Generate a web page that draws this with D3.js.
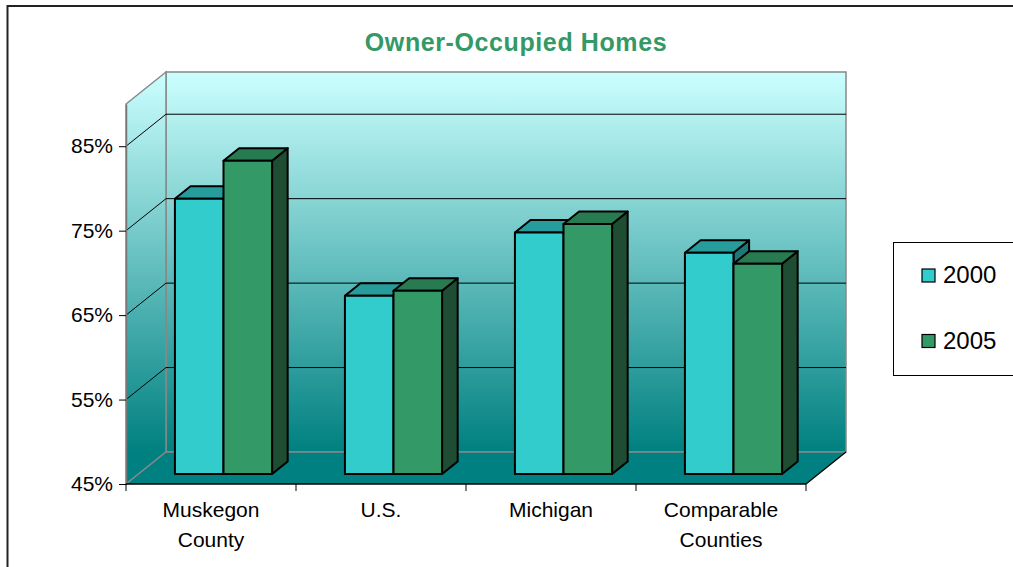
<!DOCTYPE html>
<html>
<head>
<meta charset="utf-8">
<script src="https://cdn.jsdelivr.net/npm/d3@7"></script>
<style>
  body { margin: 0; background: #fff; }
  text { font-family: "Liberation Sans", Arial, sans-serif; }
</style>
</head>
<body>
<div id="chart"></div>
<script>
// data
var categories = ["Muskegon County", "U.S.", "Michigan", "Comparable Counties"];
var years = ["2000", "2005"];
var values2000 = [77.6, 66.1, 73.6, 71.2];
var values2005 = [82.1, 66.7, 74.6, 69.9];
var yTicks = [45, 55, 65, 75, 85];

var svgWidth = 1013;
var svgHeight = 567;

// 3d depth of the plot box, and of the bars inside it
var DX = 40, DY = -32;
var frontDX = 12.5, frontDY = -10;
var barDX = 15.6, barDY = -12.5;

var colors = {
  "2000": { front: "#33cccc", top: "#279c9c", side: "#1e7878" },
  "2005": { front: "#339966", top: "#287a50", side: "#1e4d34" }
};

var svg = d3.select("#chart")
  .append("svg")
  .attr("width", svgWidth)
  .attr("height", svgHeight);

var defs = svg.append("defs");
var grad = defs.append("linearGradient")
  .attr("id", "wall")
  .attr("gradientUnits", "userSpaceOnUse")
  .attr("x1", 0).attr("y1", 72).attr("x2", 0).attr("y2", 452);
grad.append("stop").attr("offset", "0%").attr("stop-color", "#ccffff");
grad.append("stop").attr("offset", "100%").attr("stop-color", "#008080");

// outer chart border
svg.append("rect")
  .attr("x", 7.5).attr("y", 6)
  .attr("width", 1040).attr("height", 600)
  .attr("fill", "#fff")
  .attr("stroke", "#222")
  .attr("stroke-width", 2);

var x = d3.scaleBand()
  .domain(categories)
  .range([126, 806]);

var xInner = d3.scaleBand()
  .domain(years)
  .range([0, x.bandwidth()])
  .paddingInner(0)
  .paddingOuter(0.75);

var y = d3.scaleLinear()
  .domain([45, 90])
  .range([484, 104]);

var x0 = x.range()[0], x1 = x.range()[1];
var yBase = y(45), yTop = y(90);

// back wall
svg.append("rect")
  .attr("x", x0 + DX).attr("y", yTop + DY)
  .attr("width", x1 - x0).attr("height", yBase - yTop)
  .attr("fill", "url(#wall)")
  .attr("stroke", "#888")
  .attr("stroke-width", 1.5);

// left wall
svg.append("polygon")
  .attr("points", [[x0, yBase], [x0, yTop], [x0 + DX, yTop + DY], [x0 + DX, yBase + DY]].join(" "))
  .attr("fill", "url(#wall)")
  .attr("stroke", "#888")
  .attr("stroke-width", 1.5);

// gridlines
var grid = svg.append("g");
yTicks.filter(d => d > 45).forEach(function(v) {
  grid.append("line")
    .attr("x1", x0 + DX).attr("x2", x1 + DX)
    .attr("y1", y(v) + DY).attr("y2", y(v) + DY)
    .attr("stroke", "#000").attr("stroke-width", 1);
  grid.append("line")
    .attr("x1", x0).attr("x2", x0 + DX)
    .attr("y1", y(v)).attr("y2", y(v) + DY)
    .attr("stroke", "#000").attr("stroke-width", 1);
});

// floor
svg.append("polygon")
  .attr("points", [[x0, yBase], [x1, yBase], [x1 + DX, yBase + DY], [x0 + DX, yBase + DY]].join(" "))
  .attr("fill", "#008080");
svg.append("line")
  .attr("x1", x0).attr("y1", yBase).attr("x2", x0 + DX).attr("y2", yBase + DY)
  .attr("stroke", "#888").attr("stroke-width", 1.5);
svg.append("line")
  .attr("x1", x0 + DX).attr("y1", yBase + DY).attr("x2", x1 + DX).attr("y2", yBase + DY)
  .attr("stroke", "#888").attr("stroke-width", 1.5);
svg.append("line")
  .attr("x1", x1).attr("y1", yBase).attr("x2", x1 + DX).attr("y2", yBase + DY)
  .attr("stroke", "#000").attr("stroke-width", 1.2);

// bars
var barData = [];
categories.forEach(function(c, i) {
  barData.push({ cat: c, year: "2000", value: values2000[i] });
  barData.push({ cat: c, year: "2005", value: values2005[i] });
});

var bars = svg.append("g")
  .selectAll("g")
  .data(barData)
  .enter()
  .append("g")
  .attr("stroke", "#000")
  .attr("stroke-width", 2)
  .attr("stroke-linejoin", "round");

function geom(d) {
  var bx = x(d.cat) + xInner(d.year) + frontDX;
  var w = xInner.bandwidth();
  var top = y(d.value) + frontDY;
  var bottom = yBase + frontDY;
  return { bx: bx, w: w, top: top, bottom: bottom };
}

bars.append("polygon")
  .attr("fill", d => colors[d.year].side)
  .attr("points", function(d) {
    var g = geom(d);
    return [[g.bx + g.w, g.top], [g.bx + g.w + barDX, g.top + barDY],
            [g.bx + g.w + barDX, g.bottom + barDY], [g.bx + g.w, g.bottom]].join(" ");
  });

bars.append("polygon")
  .attr("fill", d => colors[d.year].top)
  .attr("points", function(d) {
    var g = geom(d);
    return [[g.bx, g.top], [g.bx + g.w, g.top],
            [g.bx + g.w + barDX, g.top + barDY], [g.bx + barDX, g.top + barDY]].join(" ");
  });

bars.append("rect")
  .attr("fill", d => colors[d.year].front)
  .attr("x", d => geom(d).bx)
  .attr("y", d => geom(d).top)
  .attr("width", d => geom(d).w)
  .attr("height", d => geom(d).bottom - geom(d).top);

// y axis
var leftAxis = d3.axisLeft(y)
  .tickValues(yTicks)
  .tickSize(7)
  .tickSizeOuter(0)
  .tickPadding(6)
  .tickFormat(d => d + "%");

var yAxis = svg.append("g")
  .attr("transform", `translate(${x0}, 0)`)
  .call(leftAxis);
yAxis.select(".domain").attr("stroke", "#777").attr("stroke-width", 1.5);
yAxis.selectAll(".tick line").attr("stroke", "#000");
yAxis.selectAll(".tick text")
  .attr("fill", "#000")
  .style("font-size", "21px")
  .style("font-family", "'Liberation Sans', Arial, sans-serif");

// x axis: front floor edge, ticks on the category boundaries
svg.append("line")
  .attr("x1", x0).attr("x2", x1)
  .attr("y1", yBase).attr("y2", yBase)
  .attr("stroke", "#000").attr("stroke-width", 1.5);

var bounds = categories.map(c => x(c)).concat([x1]);
svg.append("g")
  .selectAll("line")
  .data(bounds)
  .enter()
  .append("line")
  .attr("x1", d => d).attr("x2", d => d)
  .attr("y1", yBase).attr("y2", yBase + 7)
  .attr("stroke", "#000").attr("stroke-width", 1);

var labels = svg.append("g")
  .selectAll("text")
  .data(categories)
  .enter()
  .append("text")
  .attr("text-anchor", "middle")
  .style("font-size", "21px")
  .attr("fill", "#000");

labels.selectAll("tspan")
  .data(d => d.split(" ").map(t => ({ t: t, c: d })))
  .enter()
  .append("tspan")
  .attr("x", d => x(d.c) + x.bandwidth() / 2)
  .attr("y", (d, i) => 516.5 + i * 30)
  .text(d => d.t);

// title
svg.append("text")
  .attr("x", 516)
  .attr("y", 51)
  .attr("text-anchor", "middle")
  .style("font-size", "25px")
  .style("font-weight", "bold")
  .style("letter-spacing", "0.6px")
  .attr("fill", "#339966")
  .text("Owner-Occupied Homes");

// legend
var legend = svg.append("g");
legend.append("rect")
  .attr("x", 893.5).attr("y", 242.5)
  .attr("width", 140).attr("height", 133)
  .attr("fill", "#fff")
  .attr("stroke", "#000")
  .attr("stroke-width", 1);

var items = legend.selectAll("g.item")
  .data(years)
  .enter()
  .append("g")
  .attr("class", "item")
  .attr("transform", (d, i) => `translate(922, ${269 + i * 65.5})`);

items.append("rect")
  .attr("width", 13).attr("height", 13)
  .attr("fill", d => colors[d].front)
  .attr("stroke", "#000")
  .attr("stroke-width", 1.2);

items.append("text")
  .attr("x", 21)
  .attr("y", 14)
  .style("font-size", "24px")
  .attr("fill", "#000")
  .text(d => d);
</script>
</body>
</html>
